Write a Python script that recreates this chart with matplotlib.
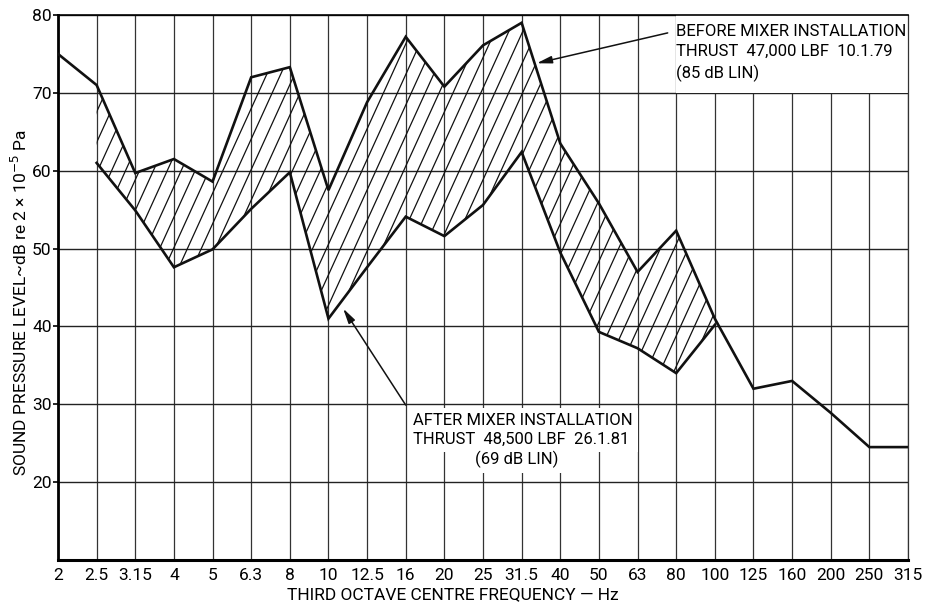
import numpy as np
import matplotlib
matplotlib.use("Agg")
import matplotlib.pyplot as plt
from matplotlib.lines import Line2D
from matplotlib.patches import Rectangle

plt.rcParams['font.family'] = ['Roboto', 'DejaVu Sans']

# ---- data ----
freq_labels = ['2', '2.5', '3.15', '4', '5', '6.3', '8', '10', '12.5', '16', '20',
               '25', '31.5', '40', '50', '63', '80', '100', '125', '160', '200',
               '250', '315']
before = [75, 71, 59.7, 61.5, 58.6, 72, 73.3, 57.5, 68.8, 77.2, 70.8,
          76.1, 79, 63.5, 55.8, 47, 52.3, 41, 32, 33, 28.9, 24.5, 24.5]
after_labels = freq_labels[1:18]
after = [61, 54.9, 47.6, 49.9, 55.1, 59.8, 41, 47.6, 54.1, 51.6,
         55.6, 62.4, 49.5, 39.3, 37.2, 34, 40.2]
y_ticks = [20, 30, 40, 50, 60, 70, 80]

before_text = "BEFORE MIXER INSTALLATION\nTHRUST  47,000 LBF  10.1.79\n(85 dB LIN)"
after_text = "AFTER MIXER INSTALLATION\nTHRUST  48,500 LBF  26.1.81"
after_text3 = "(69 dB LIN)"

# ---- figure ----
fig = plt.figure(figsize=(9.25, 6.07), dpi=100)
ax = fig.add_axes([58 / 925, 1 - 560 / 607, 850 / 925, 545 / 607])

x_all = np.arange(len(freq_labels))
x_after = np.array([freq_labels.index(f) for f in after_labels])
before_sub = np.array([before[i] for i in x_after])

ax.set_xlim(0, len(freq_labels) - 1)
ax.set_ylim(10, 80)

# grid
for xi in x_all:
    ax.axvline(xi, color='#333333', lw=0.9, zorder=1)
for yt in y_ticks:
    ax.axhline(yt, color='#222222', lw=1.0, zorder=1)

# white label panel (top-right cell block)
i80 = freq_labels.index('80')
ax.add_patch(Rectangle((i80, 70), len(freq_labels) - 1 - i80, 10,
                       facecolor='white', edgecolor='none', zorder=1.5))

# hatched band between the curves
poly = ax.fill_between(x_after, np.array(after), before_sub,
                       facecolor='none', edgecolor='none', zorder=2)
clip = poly.get_paths()[0]
k = 10.9        # hatch slope, dB per category step
step = 0.36     # hatch spacing, category steps
yy = np.array([25.0, 85.0])
for c in np.arange(x_after[0] - 6, x_after[-1] + 1, step):
    xx = c + (yy - 10) / k
    ln = Line2D(xx, yy, color='#111111', lw=0.9, zorder=3)
    ax.add_line(ln)
    ln.set_clip_path(clip, ax.transData)

ax.plot(x_all, before, color='#111111', lw=1.9, zorder=4, solid_joinstyle='miter')
ax.plot(x_after, after, color='#111111', lw=1.9, zorder=4, solid_joinstyle='miter')

# annotations
arrow_kw = dict(arrowstyle='-|>,head_length=0.9,head_width=0.22',
                color='#111111', lw=1.1, shrinkA=0, shrinkB=0)
ax.text(16.0, 78.9, before_text, ha='left', va='top', fontsize=12,
        linespacing=1.42, zorder=6)
ax.annotate('', xy=(12.39, 73.8), xytext=(15.78, 77.7), arrowprops=arrow_kw, zorder=6)

t_after = ax.text(9.2, 28.9, after_text, ha='left', va='top', fontsize=12,
                  linespacing=1.35, zorder=6,
                  bbox=dict(boxstyle='square,pad=0.3', fc='white', ec='none'))
ax.annotate('', xy=(7.38, 42.3), xytext=(9.0, 29.9), arrowprops=arrow_kw, zorder=6)
ax.annotate(after_text3, xy=(0.47, 0), xycoords=t_after, xytext=(0, -3),
            textcoords='offset points', ha='center', va='top', fontsize=12,
            bbox=dict(boxstyle='square,pad=0.3', fc='white', ec='none'), zorder=6)

# axes / ticks
ax.set_xticks(x_all)
ax.set_xticklabels(freq_labels, fontsize=12.5)
ax.set_yticks(y_ticks)
ax.set_yticklabels([str(v) for v in y_ticks], fontsize=12.5)
ax.tick_params(axis='x', length=0, pad=6)
ax.tick_params(axis='y', length=3.6, width=1.2, pad=1)

ax.spines['left'].set_linewidth(2.0)
ax.spines['bottom'].set_linewidth(2.2)
ax.spines['top'].set_linewidth(1.2)
ax.spines['right'].set_linewidth(0.9)
ax.spines['right'].set_color('#333333')

ax.set_ylabel("SOUND PRESSURE LEVEL~dB re 2 \u00d7 10$^{-5}$ Pa", fontsize=12.5)
ax.yaxis.set_label_coords(-0.033, 0.473)
ax.set_xlabel("THIRD OCTAVE CENTRE FREQUENCY \u2014 Hz", fontsize=12.5)
ax.xaxis.set_label_coords(0.464, -0.050)

fig.savefig("out.png", dpi=100)
